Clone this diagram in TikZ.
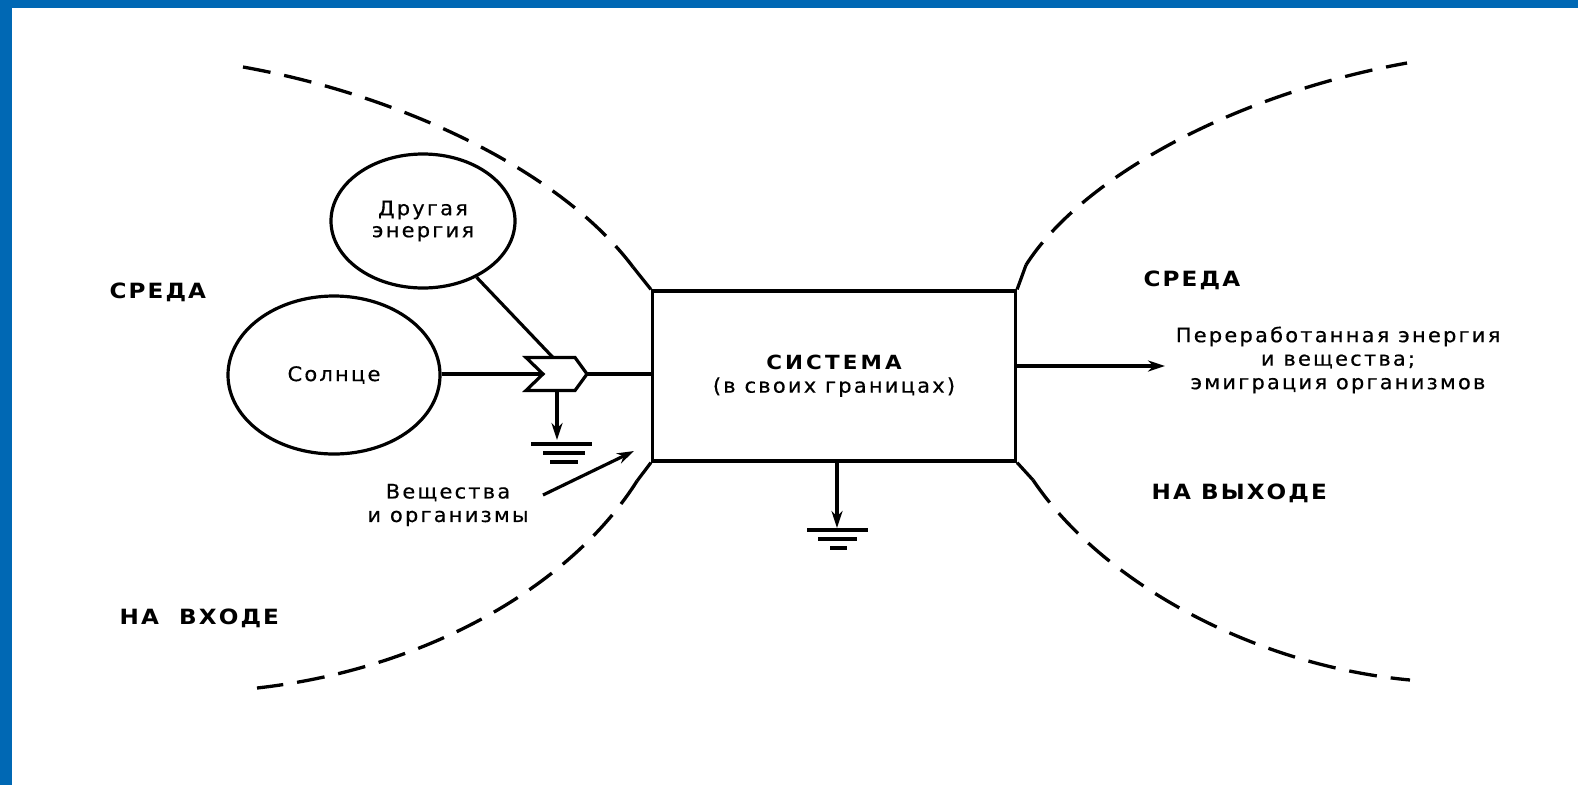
\documentclass[tikz,border=0pt]{standalone}
\usepackage{fontspec}
\setmainfont{DejaVu Sans}
\newfontfamily\lf[LetterSpace=11,FakeStretch=1.05,FakeBold=0.5]{DejaVu Sans}
\newfontfamily\cf[LetterSpace=10,FakeStretch=1.1]{DejaVu Sans}
\usetikzlibrary{arrows.meta,shapes.geometric}
\definecolor{frameblue}{RGB}{0,104,180}
\begin{document}
\begin{tikzpicture}[x=1pt,y=-1pt,line width=3.2pt,
  lbl/.style={font=\lf\fontsize{20}{23.5}\selectfont,align=center,inner sep=0pt},
  capl/.style={font=\cf\bfseries\fontsize{21}{24}\selectfont,inner sep=0pt,anchor=west},
  oval/.style={ellipse,draw,inner sep=0pt,font=\lf\fontsize{20}{22}\selectfont,align=center},
  bound/.style={dash pattern=on 28pt off 14pt,line width=3.3pt},
  flow/.style={-{Stealth[length=17pt,width=11pt]}},
]
\useasboundingbox (0,0) rectangle (1578,785);
\fill[white] (0,0) rectangle (1578,785);
\fill[frameblue] (0,0) rectangle (12,785);
\fill[frameblue] (0,0) rectangle (1578,8);

% system box
\node[draw,minimum width=363pt,minimum height=170pt,inner sep=0pt,align=center,
      font=\lf\fontsize{20}{23}\selectfont] (sys) at (834,376)
      {{\cf\bfseries\fontsize{19.5}{23}\selectfont\addfontfeatures{LetterSpace=16}СИСТЕМА}\\(в своих границах)};

% sources
\node[oval,minimum width=184pt,minimum height=134pt] (other) at (423,221) {Другая\\энергия};
\node[oval,minimum width=212pt,minimum height=158pt] (sun) at (334,375) {Солнце};

% chevron (interaction)
\coordinate (chevnotch) at (543,374);
\coordinate (chevtip) at (587,374);
\coordinate (chevtop) at (553,357.5);
\coordinate (chevbot) at (557,390.5);
\draw[line join=miter] (526,357.5) -- (575,357.5) -- (chevtip) -- (575,390.5) -- (526,390.5) -- (chevnotch) -- cycle;

\draw (sun.east |- chevnotch) -- (chevnotch);
\draw (other) -- (chevtop);
\draw (chevtip) -- (chevtip -| sys.west);

% heat sink under chevron
\coordinate (g1) at (557,440);
\draw[flow] (chevbot) -- (g1);
\draw (531,444) -- (592,444);
\draw (543,453) -- (585,453);
\draw (550,462) -- (578,462);

% heat sink under system
\coordinate (g2) at (837,528);
\draw[flow] (g2 |- sys.south) -- (g2);
\draw (807,530) -- (868,530);
\draw (818,539) -- (857,539);
\draw (830,548) -- (847,548);

% output
\coordinate (outtip) at (1165,366);
\draw[flow] (outtip -| sys.east) -- (outtip);
\node[lbl] (outtxt) at (1338,360) {Переработанная энергия\\и вещества;\\эмиграция организмов};

% matter input
\coordinate (vstart) at (543,495);
\coordinate (vtip) at (634,451);
\draw[flow] (vstart) -- (vtip);
\node[lbl] (vesch) at (448,505) {Вещества\\и организмы};

% boundaries
\coordinate (c1) at (633,267);
\coordinate (c2) at (637,481);
\coordinate (c3) at (1026,265);
\coordinate (c4) at (1033,480);
\draw[bound] (243,67) .. controls (400,95) and (560,170) .. (c1);
\draw (c1) -- (sys.north west);
\draw[bound] (c2) .. controls (568,590) and (420,670) .. (257,688);
\draw (c2) -- (sys.south west);
\draw[bound] (c3) .. controls (1080,180) and (1230,95) .. (1407,63);
\draw (c3) -- (sys.north east);
\draw[bound] (c4) .. controls (1100,580) and (1250,665) .. (1410,680);
\draw (c4) -- (sys.south east);

% environment labels
\node[capl] (envin1) at (108,292) {СРЕДА};
\node[capl] (envin2) at (118,618) {НА\ \ ВХОДЕ};
\node[capl] (envout1) at (1142,280) {СРЕДА};
\node[capl] (envout2) at (1150,493) {НА ВЫХОДЕ};
\end{tikzpicture}
\end{document}
